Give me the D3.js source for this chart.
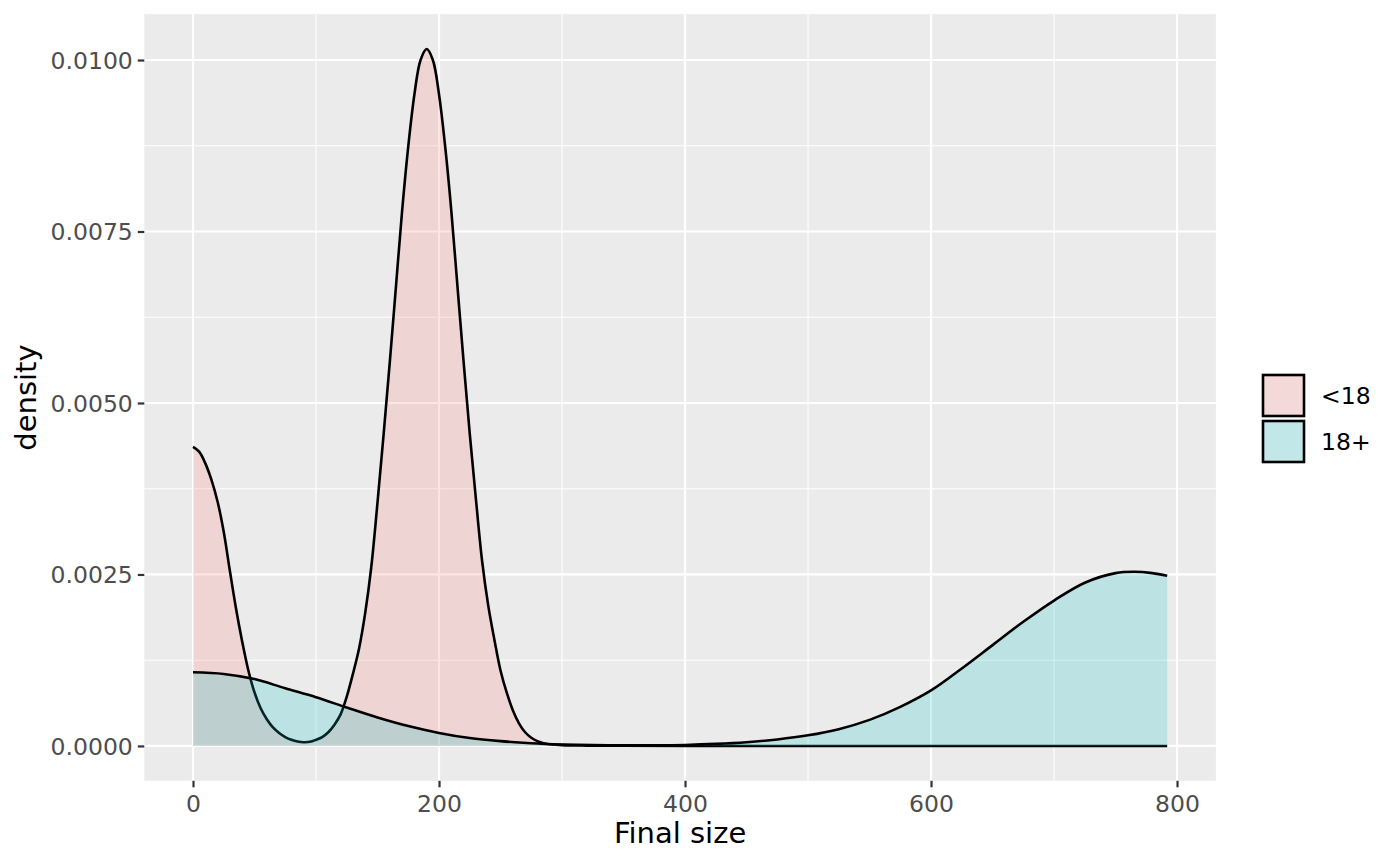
<!DOCTYPE html>
<html>
<head>
<meta charset="utf-8">
<script src="https://cdn.jsdelivr.net/npm/d3@7"></script>
<style>
  body { margin: 0; background: #fff; }
  text { font-family: "DejaVu Sans", sans-serif; }
</style>
</head>
<body>
<svg id="chart" width="1400" height="865"></svg>
<script>
// values (density in units of 1e-3)
const groups = ["<18", "18+"];
const groupColors = ["#F8766D", "#00BFC4"];

const u18Size = [0, 5, 10, 15, 20, 25, 30, 35, 40, 45, 50, 55, 60, 65, 70, 75, 80, 85, 90, 95,
  100, 105, 110, 115, 120, 125, 130, 135, 140, 145, 150, 155, 160, 165, 170, 175, 180, 185, 190,
  195, 200, 205, 210, 215, 220, 225, 230, 235, 240, 245, 250, 255, 260, 265, 270, 275, 280, 285,
  290, 300, 320, 350, 400, 500, 600, 700, 792];
const u18Density = [4.36, 4.29, 4.12, 3.88, 3.56, 3.12, 2.55, 2.00, 1.52, 1.10, 0.78, 0.55, 0.39, 0.27, 0.19, 0.13, 0.09, 0.065, 0.055, 0.06,
  0.09, 0.13, 0.20, 0.31, 0.46, 0.72, 1.05, 1.42, 1.94, 2.62, 3.55, 4.55, 5.60, 6.70, 7.80, 8.74, 9.50, 10.00, 10.16,
  10.00, 9.50, 8.74, 7.80, 6.70, 5.60, 4.55, 3.60, 2.70, 2.05, 1.55, 1.10, 0.78, 0.52, 0.33, 0.20, 0.12, 0.07, 0.04,
  0.025, 0.012, 0.005, 0.002, 0.001, 0, 0, 0, 0];

const adultSize = [0, 25, 50, 75, 100, 125, 150, 175, 200, 225, 250, 275, 300, 325, 350, 375, 400, 425, 450, 475,
  500, 525, 550, 575, 600, 625, 650, 675, 700, 725, 750, 765, 780, 792];
const adultDensity = [1.074, 1.05, 0.975, 0.84, 0.71, 0.56, 0.415, 0.29, 0.19, 0.115, 0.07, 0.04, 0.022, 0.012, 0.008, 0.009, 0.015, 0.03, 0.055, 0.095,
  0.155, 0.245, 0.38, 0.57, 0.81, 1.13, 1.47, 1.81, 2.12, 2.38, 2.52, 2.54, 2.52, 2.48];

const xTicks = [0, 200, 400, 600, 800];
const xMinor = [100, 300, 500, 700];
const yTicks = [0, 0.0025, 0.005, 0.0075, 0.01];
const yMinor = [0.00125, 0.00375, 0.00625, 0.00875];

const series = [
  { name: groups[0], color: groupColors[0], pts: u18Size.map((s, i) => [s, u18Density[i] / 1000]) },
  { name: groups[1], color: groupColors[1], pts: adultSize.map((s, i) => [s, adultDensity[i] / 1000]) }
];

const svg = d3.select("#chart");
const panel = { left: 144.3, right: 1215.9, top: 14.2, bottom: 780.8 };

// ggplot style 5% expansion
function expand(ext) {
  const pad = (ext[1] - ext[0]) * 0.05;
  return [ext[0] - pad, ext[1] + pad];
}
const allPts = series.flatMap(s => s.pts);
const x = d3.scaleLinear()
  .domain(expand([d3.min(allPts, d => d[0]), d3.max(allPts, d => d[0])]))
  .range([panel.left, panel.right]);
const y = d3.scaleLinear()
  .domain(expand([0, d3.max(allPts, d => d[1])]))
  .range([panel.bottom, panel.top]);

svg.append("rect")
  .attr("x", panel.left).attr("y", panel.top)
  .attr("width", panel.right - panel.left).attr("height", panel.bottom - panel.top)
  .attr("fill", "#EBEBEB");

const grid = svg.append("g").attr("stroke", "#fff");
grid.selectAll(".xminor").data(xMinor).join("line")
  .attr("x1", d => x(d)).attr("x2", d => x(d))
  .attr("y1", panel.top).attr("y2", panel.bottom).attr("stroke-width", 1.1);
grid.selectAll(".yminor").data(yMinor).join("line")
  .attr("y1", d => y(d)).attr("y2", d => y(d))
  .attr("x1", panel.left).attr("x2", panel.right).attr("stroke-width", 1.1);
grid.selectAll(".xmajor").data(xTicks).join("line")
  .attr("x1", d => x(d)).attr("x2", d => x(d))
  .attr("y1", panel.top).attr("y2", panel.bottom).attr("stroke-width", 2.2);
grid.selectAll(".ymajor").data(yTicks).join("line")
  .attr("y1", d => y(d)).attr("y2", d => y(d))
  .attr("x1", panel.left).attr("x2", panel.right).attr("stroke-width", 2.2);

const curve = d3.curveCatmullRom.alpha(0.5);
const area = d3.area()
  .x(d => x(d[0]))
  .y0(y(0))
  .y1(d => Math.min(y(0), y(d[1])))
  .curve(curve);
const line = d3.line()
  .x(d => x(d[0]))
  .y(d => y(d[1]))
  .curve(curve);

series.forEach(s => {
  svg.append("path").datum(s.pts)
    .attr("d", area)
    .attr("fill", s.color).attr("fill-opacity", 0.2);
  svg.append("path").datum(s.pts)
    .attr("d", line)
    .attr("fill", "none").attr("stroke", "#000").attr("stroke-width", 2.6)
    .attr("stroke-linejoin", "round");
});

// axes
const xAxis = svg.append("g")
  .attr("transform", `translate(0,${panel.bottom})`)
  .call(d3.axisBottom(x).tickValues(xTicks).tickSize(6.5).tickPadding(4).tickFormat(d3.format("d")));
const yAxis = svg.append("g")
  .attr("transform", `translate(${panel.left},0)`)
  .call(d3.axisLeft(y).tickValues(yTicks).tickSize(6.5).tickPadding(5).tickFormat(d3.format(".4f")));
[xAxis, yAxis].forEach(a => {
  a.select(".domain").remove();
  a.selectAll(".tick line").attr("stroke", "#333").attr("stroke-width", 2.2);
  a.selectAll(".tick text").attr("fill", "#4D4D4D").attr("font-size", 23.5)
    .attr("font-family", "DejaVu Sans, sans-serif");
});
xAxis.selectAll(".tick text").attr("dy", null).attr("y", 0)
  .attr("transform", "translate(0,31.5)");
yAxis.selectAll(".tick text").attr("dy", "0.36em");

svg.append("text")
  .attr("x", (panel.left + panel.right) / 2).attr("y", 843)
  .attr("text-anchor", "middle").attr("font-size", 29).attr("fill", "#000")
  .text("Final size");
svg.append("text")
  .attr("transform", `translate(36,${(panel.top + panel.bottom) / 2}) rotate(-90)`)
  .attr("text-anchor", "middle").attr("font-size", 29).attr("fill", "#000")
  .text("density");

// legend
const legend = svg.append("g").attr("transform", "translate(1263,375)");
series.forEach((s, i) => {
  const g = legend.append("g").attr("transform", `translate(0,${i * 46})`);
  g.append("rect").attr("width", 41).attr("height", 41).attr("fill", "#F2F2F2");
  g.append("rect").attr("width", 41).attr("height", 41)
    .attr("fill", s.color).attr("fill-opacity", 0.2)
    .attr("stroke", "#000").attr("stroke-width", 2.6);
  g.append("text").attr("x", 58).attr("y", 29)
    .attr("font-size", 23.5).attr("fill", "#000")
    .text(s.name);
});
</script>
</body>
</html>
